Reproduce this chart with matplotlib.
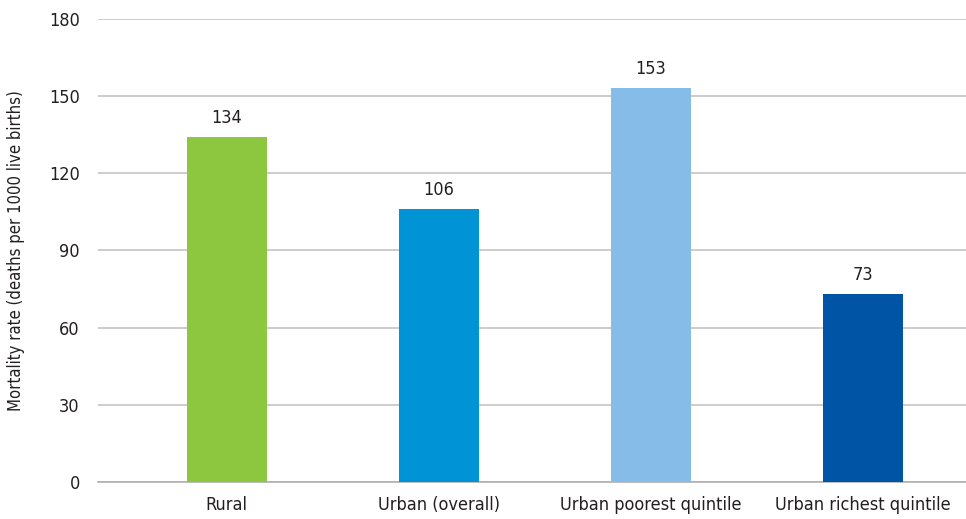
import matplotlib.pyplot as plt

categories = ["Rural", "Urban (overall)", "Urban poorest quintile", "Urban richest quintile"]
values = [134, 106, 153, 73]
colors = ["#8dc63f", "#0093d6", "#85bde8", "#0054a6"]
yticks = [0, 30, 60, 90, 120, 150, 180]

plt.rcParams['font.family'] = ['DejaVu Sans']
plt.rcParams['font.stretch'] = 'condensed'
textColor = "#231f20"

fig = plt.figure(figsize=(9.66, 5.19), dpi=100)
ax = fig.add_axes([0.1014, 0.0713, 0.8986, 0.8921])

x = range(len(categories))
ax.bar(x, values, width=0.377, color=colors, zorder=3)
for i, v in enumerate(values):
    ax.text(i, v + 4, str(v), ha="center", va="bottom", fontsize=13, color=textColor)

ax.set_ylim(0, 180)
ax.set_xlim(-0.608, 3.486)
ax.set_yticks(yticks)
ax.set_yticklabels([str(t) for t in yticks], fontsize=13, color=textColor)
ax.set_xticks(list(x))
ax.set_xticklabels(categories, fontsize=13, color=textColor)
ax.tick_params(axis="both", length=0, pad=10)
ax.tick_params(axis="y", pad=13)
ax.yaxis.grid(True, color="#c4c4c4", linewidth=1.2, zorder=0)
for s in ["top", "right", "left"]:
    ax.spines[s].set_visible(False)
ax.spines["bottom"].set_color("#b0b0b0")
ax.spines["bottom"].set_linewidth(1.2)
ax.set_ylabel("Mortality rate (deaths per 1000 live births)", fontsize=12, color=textColor, labelpad=17)

plt.savefig("out.png", dpi=100)
